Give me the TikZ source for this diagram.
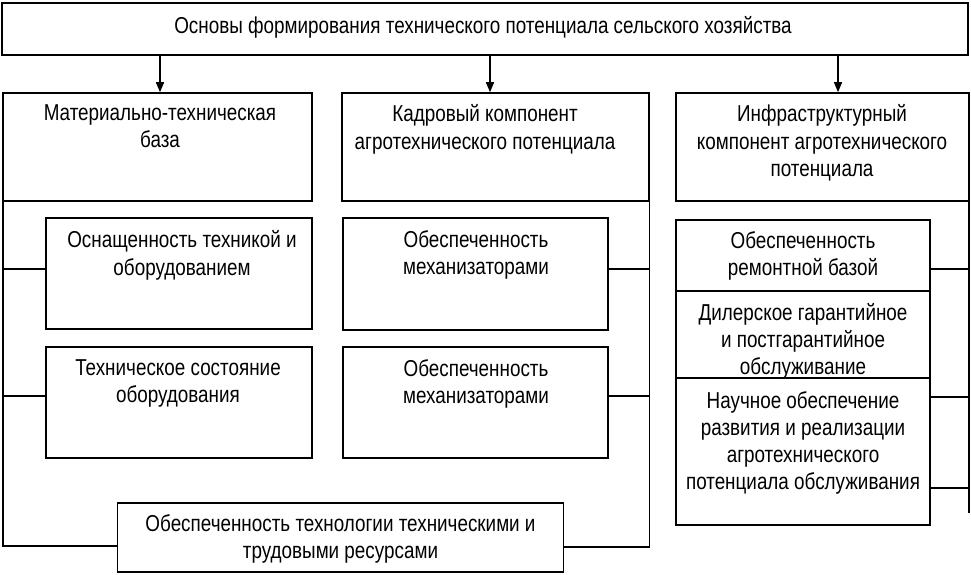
\documentclass[tikz,border=0pt]{standalone}
\usepackage{fontspec}
\setmainfont[FakeStretch=0.82]{Liberation Sans}
\usetikzlibrary{arrows.meta}
\begin{document}
\begin{tikzpicture}[x=1pt,y=-1pt,
  mainbox/.style={draw, line width=1.6pt, rectangle, inner sep=0pt},
  subbox/.style={draw, line width=1.3pt, rectangle, inner sep=0pt},
  txt/.style={font=\fontsize{23}{27.3}\selectfont, align=center, inner sep=0pt},
  conn/.style={line width=1.4pt},
  arr/.style={line width=1.4pt, -{Triangle[length=10pt,width=8pt]}}]
\useasboundingbox (0,0) rectangle (971,574);
% top
\node[mainbox, minimum width=966pt, minimum height=52pt] (top) at (485,29) {};
\node[txt] (toptxt) at (483,27) {Основы формирования технического потенциала сельского хозяйства};
% level 1
\node[mainbox, minimum width=309pt, minimum height=108pt] (L1) at (157.5,147) {};
\node[txt, anchor=north] (L1t) at (160,104.5) {Материально-техническая\\база};
\node[mainbox, minimum width=307pt, minimum height=108pt] (M1) at (495.5,147) {};
\node[txt, anchor=north] (M1t) at (485,104.5) {Кадровый компонент\\агротехнического потенциала};
\node[mainbox, minimum width=293pt, minimum height=108pt] (R1) at (822.5,147) {};
\node[txt, anchor=north] (R1t) at (822,104.5) {Инфраструктурный\\компонент агротехнического\\потенциала};
% arrows
\draw[arr] ([xshift=2.5pt]L1.north |- top.south) -- ([xshift=2.5pt]L1.north);
\draw[arr] ([xshift=-5.5pt]M1.north |- top.south) -- ([xshift=-5.5pt]M1.north);
\draw[arr] ([xshift=15.5pt]R1.north |- top.south) -- ([xshift=15.5pt]R1.north);
% left sub boxes
\node[subbox, minimum width=266pt, minimum height=111pt] (LA) at (179,273.5) {};
\node[txt, anchor=north] (LAt) at (182,230.5) {Оснащенность техникой и\\оборудованием};
\node[subbox, minimum width=266pt, minimum height=111pt] (LB) at (179,402.5) {};
\node[txt, anchor=north] (LBt) at (178,359.5) {Техническое состояние\\оборудования};
% middle sub boxes
\node[subbox, minimum width=265pt, minimum height=112pt] (MA) at (475.5,274) {};
\node[txt, anchor=north] (MAt) at (476,230.5) {Обеспеченность\\механизаторами};
\node[subbox, minimum width=265pt, minimum height=111pt] (MB) at (475.5,402.5) {};
\node[txt, anchor=north] (MBt) at (476,359.5) {Обеспеченность\\механизаторами};
% bottom box
\node[subbox, minimum width=446pt, minimum height=69pt] (bot) at (340.5,537.5) {};
\node[txt] (bott) at (340.5,539) {Обеспеченность технологии техническими и\\трудовыми ресурсами};
% right stack
\node[subbox, minimum width=254pt, minimum height=71pt] (RA) at (803,255.5) {};
\node[txt, anchor=north] (RAt) at (803,231) {Обеспеченность\\ремонтной базой};
\node[subbox, minimum width=254pt, minimum height=87pt] (RB) at (803,334.5) {};
\node[txt, anchor=north] (RBt) at (803,303) {Дилерское гарантийное\\и постгарантийное\\обслуживание};
\node[subbox, minimum width=254pt, minimum height=147pt] (RC) at (803,451.5) {};
\node[txt, anchor=north] (RCt) at (803,391) {Научное обеспечение\\развития и реализации\\агротехнического\\потенциала обслуживания};
% left trunk
\coordinate (Lend) at ([xshift=0.8pt]L1.south west |- 0,546);
\draw[conn] ([xshift=0.8pt]L1.south west) -- (Lend) -- (Lend -| bot.west);
\draw[conn] (LA.west |- 0,269) -- (L1.south west |- 0,269);
\draw[conn] (LB.west |- 0,396) -- (L1.south west |- 0,396);
% middle trunk
\coordinate (Mend) at ([xshift=-0.5pt]M1.south east |- 0,547);
\draw[conn] ([xshift=-0.5pt]M1.south east) -- (Mend) -- (Mend -| bot.east);
\draw[conn] (MA.east |- 0,269) -- (Mend |- 0,269);
\draw[conn] (MB.east |- 0,396) -- (Mend |- 0,396);
% right trunk
\coordinate (Rtop) at ([xshift=-1pt]R1.south east);
\coordinate (Rend) at (Rtop |- 0,513);
\draw[conn] (Rtop) -- (Rend);
\draw[conn] (RA.east |- 0,269) -- (Rtop |- 0,269);
\draw[conn] (RC.east |- 0,397) -- (Rtop |- 0,397);
\draw[conn] (RC.east |- 0,488) -- (Rtop |- 0,488);
\end{tikzpicture}
\end{document}
